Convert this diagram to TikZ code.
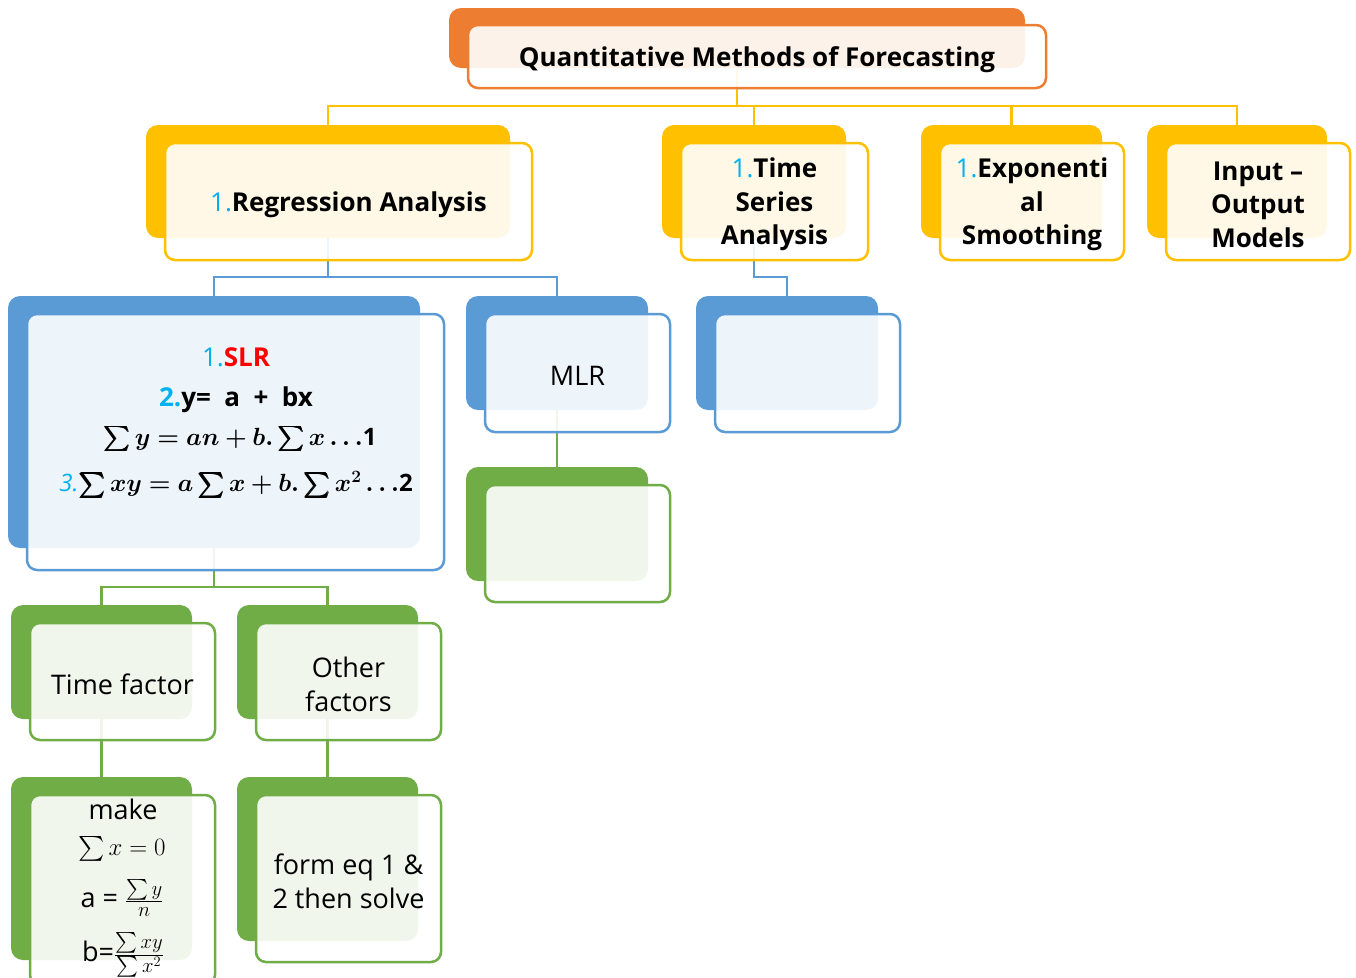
\documentclass[tikz,border=0pt]{standalone}
\usepackage{amsmath}
\usepackage{bm}
\usepackage{fontspec}
\setmainfont{Open Sans}
\usetikzlibrary{fit}
\definecolor{ora}{HTML}{ED7D31}
\definecolor{yel}{HTML}{FFC000}
\definecolor{blu}{HTML}{5B9BD5}
\definecolor{grn}{HTML}{70AD47}
\definecolor{cy}{HTML}{00B0F0}
\definecolor{rd}{HTML}{FF0000}
\newcommand\num[1]{\textcolor{cy}{\mdseries #1}}
\newcommand\bftxt{\fontsize{26}{33.5}\selectfont\bfseries}
\newcommand\mathtxt{\fontsize{24}{30}\selectfont}
\tikzset{
  backcard/.style={rectangle, rounded corners=12pt, fill=#1, draw=none, inner sep=0pt},
  frontcard/.style={rectangle, rounded corners=10pt, draw=#1, line width=2.5pt,
    fill=white, fill opacity=0.9, inner sep=0pt},
  link/.style={draw=#1, line width=2.5pt},
  txt/.style={inner sep=0pt, align=center, font=\fontsize{27}{33.5}\selectfont}
}
% back card + front card + centred label: name, colour, back corners, front corners, text
\newcommand\card[7]{%
  \node[backcard=#2, fit={(#3) (#4)}] (#1-b) {};
  \node[frontcard=#2, fit={(#5) (#6)}] (#1) {};
  \node[txt, yshift=-3pt] (#1-t) at (#1.center) {#7};}
\begin{document}
\begin{tikzpicture}[x=1pt, y=-1pt]
\useasboundingbox (0,0) rectangle (1356,977);
\clip (0,0) rectangle (1356,977);
% connectors (drawn first so the front cards fade them)
\coordinate (c-top) at (737,68);
\coordinate (c-reg) at (328,238);
\coordinate (c-ts) at (754,238);
\coordinate (c-slr) at (214,548);
\coordinate (c-mlr) at (557,410);
\coordinate (c-tf) at (101.5,719);
\coordinate (c-of) at (327.5,719);
\coordinate (t-reg) at (328,125);
\coordinate (t-ts) at (754,125);
\coordinate (t-exp) at (1011.5,125);
\coordinate (t-io) at (1237,125);
\coordinate (t-slr) at (214,296);
\coordinate (t-mlr) at (557,296);
\coordinate (t-tsc) at (787,296);
\coordinate (t-mlrc) at (557,467);
\coordinate (t-tf) at (101.5,605);
\coordinate (t-of) at (327.5,605);
\coordinate (t-mk) at (101.5,777);
\coordinate (t-fe) at (327.5,777);
\foreach \tg in {reg,ts,exp,io}
  \draw[link=yel] (c-top) -- ++(0,38) -| (t-\tg);
\foreach \tg in {slr,mlr}
  \draw[link=blu] (c-reg) -- ++(0,39) -| (t-\tg);
\draw[link=blu] (c-ts) -- ++(0,39) -| (t-tsc);
\foreach \tg in {tf,of}
  \draw[link=grn] (c-slr) -- ++(0,39) -| (t-\tg);
\draw[link=grn] (c-mlr) -- (t-mlrc);
\draw[link=grn] (c-tf) -- (t-mk);
\draw[link=grn] (c-of) -- (t-fe);
% cards
\card{top}{ora}{449,8}{1025,68}{468,25}{1046,88}{\bftxt Quantitative Methods of Forecasting}
\card{reg}{yel}{146,125}{510,238}{165,143}{532,260}{\bftxt\num{1.}Regression Analysis}
\card{ts}{yel}{662,125}{846,238}{681,143}{868,260}{\bftxt\num{1.}Time\\\bftxt Series\\\bftxt Analysis}
\card{exp}{yel}{921,125}{1102,238}{940,143}{1124,260}{\bftxt\num{1.}Exponenti\\\bftxt al\\\bftxt Smoothing}
\card{io}{yel}{1147,125}{1327,238}{1166,143}{1350,260}{\bftxt Input --\\\bftxt Output\\\bftxt Models}
\card{slr}{blu}{8,296}{420,548}{27,314}{444,570}{}
\card{mlr}{blu}{466,296}{648,410}{485,314}{670,432}{MLR}
\card{tsc}{blu}{696,296}{878,410}{715,314}{900,432}{}
\card{mlrc}{grn}{466,467}{648,581}{485,485}{670,602}{}
\card{tf}{grn}{11,605}{192,719}{30,623}{215,740}{Time factor}
\card{of}{grn}{237,605}{418,719}{256,623}{441,740}{Other\\factors}
\card{mk}{grn}{11,777}{192,960}{30,795}{215,985}{}
\card{fe}{grn}{237,777}{418,941}{256,795}{441,962}{form eq 1 \&\\2 then solve}
% text of the SLR card
\node[txt] (slr-1) at (236,357) {\bftxt\num{1.}\textcolor{rd}{SLR}};
\node[txt] (slr-2) at (236,400) {\bftxt\textcolor{cy}{2.}y= \ a \ + \ bx};
\node[txt] (slr-3) at (240,439) {\mathtxt $\bm{\sum y = an + b.\sum x\ldots}$\textbf{1}};
\node[txt] (slr-4) at (236,485) {\mathtxt\textcolor{cy}{\itshape 3.}$\bm{\sum xy = a\sum x + b.\sum x^2\ldots}$\textbf{2}};
% text of the make card
\node[txt] (mk-1) at (123,809) {make};
\node[txt] (mk-2) at (122,849) {\fontsize{28}{30}\selectfont$\sum x = 0$};
\node[txt] (mk-3) at (122,898) {a = {\fontsize{30}{30}\selectfont$\frac{\sum y}{n}$}};
\node[txt] (mk-4) at (123,955) {b={\fontsize{30}{30}\selectfont$\frac{\sum xy}{\sum x^2}$}};
\end{tikzpicture}
\end{document}
